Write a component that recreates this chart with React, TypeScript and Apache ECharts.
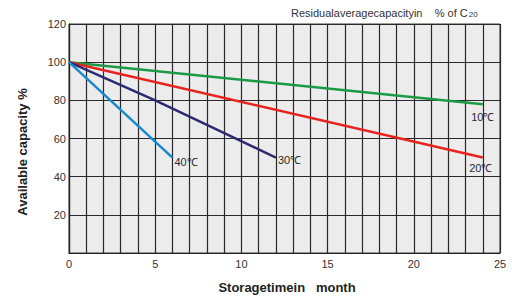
import React, { useEffect, useRef } from "react";
import * as echarts from "echarts";

const xTicks = [0, 5, 10, 15, 20, 25];
const yTicks = [20, 40, 60, 80, 100, 120];
const seriesNames = ["10℃", "20℃", "30℃", "40℃"];
const months10 = [0, 24];
const values10 = [100, 78];
const months20 = [0, 24];
const values20 = [100, 50];
const months30 = [0, 5, 12];
const values30 = [100, 80, 50];
const months40 = [0, 6];
const values40 = [100, 50];
const colors = ["#1b9a45", "#e8231f", "#2c2a70", "#1889cf"];

const FONT = "Liberation Sans, Arial, sans-serif";

export default function App() {
  const ref = useRef<HTMLDivElement>(null);
  useEffect(() => {
    document.body.style.margin = "0";
    const chart = echarts.init(ref.current!, undefined, { renderer: "svg" });
    const mk = (
      name: string,
      xs: number[],
      ys: number[],
      color: string,
      pos: string,
      offset: number[]
    ) => ({
      name,
      type: "line",
      data: xs.map((x, i) => ({
        value: [x, ys[i]],
        label:
          i === xs.length - 1
            ? {
                show: true,
                position: pos,
                offset,
                formatter: name,
                color: "#2a2a2a",
                fontSize: 11,
                fontFamily: FONT,
              }
            : { show: false },
      })),
      showSymbol: true,
      symbol: "circle",
      symbolSize: 0,
      lineStyle: { color, width: 2.5 },
      itemStyle: { color },
      z: 5,
    });
    chart.setOption({
      animation: false,
      textStyle: { fontFamily: FONT },
      grid: {
        left: 69,
        right: 12,
        top: 24,
        bottom: 45,
        show: true,
        backgroundColor: "#ececec",
        borderColor: "#3a3a3a",
        borderWidth: 1,
      },
      xAxis: {
        type: "value",
        min: 0,
        max: 25,
        interval: 5,
        axisLine: { show: true, lineStyle: { color: "#222", width: 1.2 } },
        axisTick: { show: false },
        axisLabel: {
          color: "#333",
          fontSize: 11,
          margin: 5,
          formatter: (v: number) => (xTicks.includes(v) ? String(v) : ""),
        },
        splitLine: { show: true, lineStyle: { color: "#2a2a2a", width: 1.2 } },
        minorTick: { show: false, splitNumber: 5 },
        minorSplitLine: { show: true, lineStyle: { color: "#2a2a2a", width: 1.2 } },
      },
      yAxis: {
        type: "value",
        min: 0,
        max: 120,
        interval: 20,
        axisLine: { show: true, lineStyle: { color: "#222", width: 1.2 } },
        axisTick: { show: false },
        axisLabel: {
          color: "#333",
          fontSize: 11,
          margin: 3,
          formatter: (v: number) => (yTicks.includes(v) ? String(v) : ""),
        },
        splitLine: { show: true, lineStyle: { color: "#2a2a2a", width: 1.2 } },
      },
      graphic: [
        {
          type: "text",
          x: 291,
          y: 7,
          style: {
            text: "{a|Residualaveragecapacityin    % of C}{b|20}",
            rich: {
              a: { fontSize: 11, fill: "#333", fontFamily: FONT },
              b: { fontSize: 8, fill: "#333", fontFamily: FONT, padding: [3, 0, 0, 1] },
            },
          },
        },
        {
          type: "text",
          x: 287,
          y: 287,
          style: {
            text: "Storagetimein   month",
            fontSize: 13,
            fontWeight: "bold",
            fill: "#222",
            fontFamily: FONT,
            align: "center",
            verticalAlign: "middle",
          },
        },
        {
          type: "text",
          x: 22,
          y: 152,
          rotation: Math.PI / 2,
          style: {
            text: "Available capacity %",
            fontSize: 13,
            fontWeight: "bold",
            fill: "#222",
            fontFamily: FONT,
            align: "center",
            verticalAlign: "middle",
          },
        },
      ],
      series: [
        mk(seriesNames[0], months10, values10, colors[0], "bottom", [0, 2]),
        mk(seriesNames[1], months20, values20, colors[1], "bottom", [-2, 0]),
        mk(seriesNames[2], months30, values30, colors[2], "right", [-3, 2]),
        mk(seriesNames[3], months40, values40, colors[3], "right", [-3, 4]),
      ],
    });
    return () => chart.dispose();
  }, []);
  return <div ref={ref} style={{ width: 512, height: 298 }} />;
}
